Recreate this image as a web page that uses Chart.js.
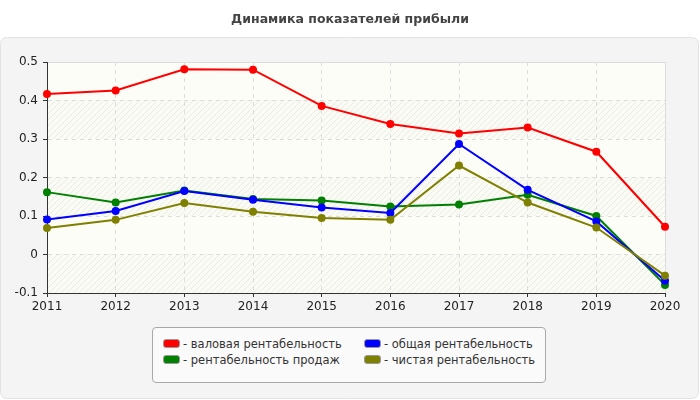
<!doctype html>
<html>
<head>
<meta charset="utf-8">
<script src="https://cdn.jsdelivr.net/npm/chart.js@4.4.1/dist/chart.umd.min.js"></script>
<style>
	body { margin: 0; padding: 0; background: #fff; font-family: "DejaVu Sans", sans-serif; }
	#wrap { position: relative; width: 700px; height: 400px; }
	#legend {
		position: absolute; left: 152px; top: 327px; width: 392px; height: 54px;
		border: 1px solid #a8a8a8; border-radius: 4px; background: #fafafa;
		font-size: 11.5px; color: #333;
	}
	.item { position: absolute; height: 16px; line-height: 16px; white-space: nowrap; }
	.sw {
		display: inline-block; width: 15px; height: 7px; border: 1px solid #999;
		border-radius: 3px; vertical-align: middle; margin-right: 3px; margin-top: -2px;
	}
</style>
</head>
<body>
<div id="wrap">
	<canvas id="myChart" width="700" height="400"></canvas>
	<div id="legend"></div>
</div>
<script>
	// years and series
	var years = ['2011', '2012', '2013', '2014', '2015', '2016', '2017', '2018', '2019', '2020'];
	var grossMargin = [0.417, 0.426, 0.481, 0.480, 0.386, 0.339, 0.314, 0.330, 0.267, 0.072];
	var totalMargin = [0.091, 0.113, 0.165, 0.142, 0.122, 0.108, 0.287, 0.168, 0.086, -0.068];
	var salesMargin = [0.162, 0.135, 0.166, 0.144, 0.140, 0.125, 0.130, 0.155, 0.100, -0.079];
	var netMargin = [0.069, 0.090, 0.134, 0.111, 0.095, 0.090, 0.231, 0.135, 0.070, -0.055];
	var yTicks = [0.5, 0.4, 0.3, 0.2, 0.1, 0, -0.1];

	var seriesNames = ['- валовая рентабельность', '- общая рентабельность', '- рентабельность продаж', '- чистая рентабельность'];
	var seriesColors = ['#ff0000', '#0000ff', '#008000', '#808000'];

	function ds(label, data, color, order) {
		return {
			label: label, data: data, borderColor: color, backgroundColor: color,
			borderWidth: 2, pointRadius: 3, pointHoverRadius: 3, tension: 0, order: order
		};
	}

	// hatch pattern for plot bands
	var pat = document.createElement('canvas');
	pat.width = 6; pat.height = 6;
	var pc = pat.getContext('2d');
	pc.fillStyle = '#fbfbf6';
	pc.fillRect(0, 0, 6, 6);
	pc.strokeStyle = '#ebebe6';
	pc.lineWidth = 1;
	pc.beginPath();
	pc.moveTo(0, 6); pc.lineTo(6, 0);
	pc.moveTo(-1, 1); pc.lineTo(1, -1);
	pc.moveTo(5, 7); pc.lineTo(7, 5);
	pc.stroke();

	function roundRect(ctx, x, y, w, h, r) {
		ctx.beginPath();
		ctx.moveTo(x + r, y);
		ctx.lineTo(x + w - r, y);
		ctx.quadraticCurveTo(x + w, y, x + w, y + r);
		ctx.lineTo(x + w, y + h - r);
		ctx.quadraticCurveTo(x + w, y + h, x + w - r, y + h);
		ctx.lineTo(x + r, y + h);
		ctx.quadraticCurveTo(x, y + h, x, y + h - r);
		ctx.lineTo(x, y + r);
		ctx.quadraticCurveTo(x, y, x + r, y);
		ctx.closePath();
	}

	var bgPlugin = {
		id: 'bg',
		beforeDraw: function (chart) {
			var ctx = chart.ctx, a = chart.chartArea, ys = chart.scales.y;
			ctx.save();
			ctx.fillStyle = '#fff';
			ctx.fillRect(0, 0, chart.width, chart.height);
			// title
			ctx.fillStyle = '#444';
			ctx.font = 'bold 12.5px "DejaVu Sans"';
			ctx.textAlign = 'center';
			ctx.textBaseline = 'middle';
			ctx.fillText('Динамика показателей прибыли', 350, 20);
			// panel
			roundRect(ctx, 0.5, 37.5, 698, 361, 7);
			ctx.fillStyle = '#f4f4f4';
			ctx.fill();
			ctx.strokeStyle = '#e2e2e2';
			ctx.lineWidth = 1;
			ctx.stroke();
			// plot area
			ctx.fillStyle = '#fdfdf8';
			ctx.fillRect(a.left, a.top, a.right - a.left, a.bottom - a.top);
			ctx.fillStyle = ctx.createPattern(pat, 'repeat');
			for (var i = 1; i < yTicks.length - 1; i += 2) {
				var y0 = ys.getPixelForValue(yTicks[i]);
				var y1 = ys.getPixelForValue(yTicks[i + 1]);
				ctx.fillRect(a.left, y0, a.right - a.left, y1 - y0);
			}
			ctx.strokeStyle = '#dcdcdc';
			ctx.strokeRect(a.left + 0.5, a.top + 0.5, a.right - a.left, a.bottom - a.top);
			ctx.restore();
		}
	};

	var tickFont = { family: 'DejaVu Sans', size: 12 };

	var config = {
		type: 'line',
		data: {
			labels: years,
			datasets: [
				ds(seriesNames[0], grossMargin, seriesColors[0], 4),
				ds(seriesNames[1], totalMargin, seriesColors[1], 2),
				ds(seriesNames[2], salesMargin, seriesColors[2], 3),
				ds(seriesNames[3], netMargin, seriesColors[3], 1)
			]
		},
		options: {
			responsive: false,
			animation: false,
			layout: { padding: { left: 0, right: 35, top: 62, bottom: 87 } },
			plugins: { legend: { display: false }, title: { display: false }, tooltip: { enabled: false } },
			scales: {
				x: {
					offset: false,
					afterFit: function (s) { s.height = 20; },
					grid: { color: '#dddddd', tickLength: 4, tickColor: '#333', tickBorderDash: [] },
					border: { color: '#333', width: 1, dash: [4, 4] },
					ticks: { color: '#222', font: tickFont, padding: 3, maxRotation: 0, autoSkip: false }
				},
				y: {
					min: -0.1, max: 0.5,
					afterFit: function (s) { s.width = 47; },
					afterBuildTicks: function (s) { s.ticks = yTicks.map(function (v) { return { value: v }; }); },
					grid: { color: '#dddddd', tickLength: 4, tickColor: '#333', tickBorderDash: [] },
					border: { color: '#333', width: 1, dash: [4, 4] },
					ticks: {
						color: '#222', font: tickFont, padding: 5,
						callback: function (v) { return String(Math.round(v * 10) / 10); }
					}
				}
			}
		},
		plugins: [bgPlugin]
	};

	var myChart = new Chart(document.getElementById('myChart'), config);

	// legend in two columns
	var legend = document.getElementById('legend');
	var pos = [[10, 8], [211, 8], [10, 24], [211, 24]];
	for (var i = 0; i < seriesNames.length; i++) {
		var it = document.createElement('div');
		it.className = 'item';
		it.style.left = pos[i][0] + 'px';
		it.style.top = pos[i][1] + 'px';
		it.innerHTML = '<span class="sw" style="background:' + seriesColors[i] + '"></span>' + seriesNames[i];
		legend.appendChild(it);
	}
</script>
</body>
</html>
